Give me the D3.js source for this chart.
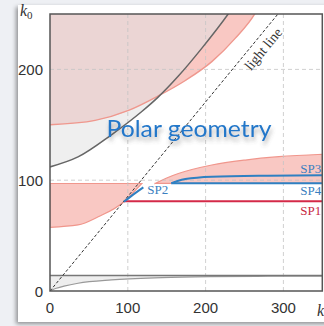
<!DOCTYPE html>
<html><head><meta charset="utf-8">
<script src="https://cdn.jsdelivr.net/npm/d3@7"></script>
<style>html,body{margin:0;padding:0;background:#eef0f4;}svg{display:block;}</style>
</head><body>
<svg id="c" width="324" height="326"></svg>
<script>
// ---- data (k, k0) ----
const xTicks = [0, 100, 200, 300];
const yTicks = [0, 100, 200];
const grayUpper = [[0,112],[36,121],[79,141],[118,162],[139,175],[165,194],[195,219],[229,250],[236,257]];
const pinkUpper = [[0,150],[58,154],[101,163],[139,176],[174,190],[208,207],[238,228],[264,251],[268,256]];
const lightLine = [[0,0],[293,250]];
const grayLowCurve = [[0,0],[8,2.5],[18,4.4],[36,7],[79,10],[144,12],[208,12.9],[280,13.3],[350,13.5]];
const grayLowLevel = 14;
const pinkLeftBottom = [[0,57.5],[36,59.6],[62,67],[95,80.6],[105,87.5],[118,97]];
const pinkLeftTop = 97;
const pinkRightTop = [[135,97],[150,102],[165,106],[208,113.7],[251,118.2],[294,121.2],[350,123.4]];
const pinkRightBottom = 97.2;
const sp1 = [[95,81],[350,81]];
const sp2 = [[95,80.6],[106,86.5],[120,93.5]];
const sp3 = [[156,97.2],[165,99.5],[174,101],[208,103.2],[280,104.1],[350,104.4]];
const sp4 = [[156,97.2],[350,97.2]];
const labels = [
  {t:"SP3", k:350, k0:104.4, dy:-2, c:"#3a7fc0"},
  {t:"SP4", k:350, k0:97.2, dy:12, c:"#3a7fc0"},
  {t:"SP1", k:350, k0:81, dy:14, c:"#c8283f"}
];

const svg = d3.select("#c");
const X0=50, X1=322.3, Y0=291, Y1=14;
const x = d3.scaleLinear().domain([0,350]).range([X0,X1]);
const y = d3.scaleLinear().domain([0,250]).range([Y0,Y1]);

const defs = svg.append("defs");
const sh = defs.append("filter").attr("id","sh").attr("x","-20%").attr("y","-20%").attr("width","140%").attr("height","140%");
sh.append("feDropShadow").attr("dx",-2).attr("dy",2).attr("stdDeviation",2).attr("flood-color","#000").attr("flood-opacity",0.4);
const tsh = defs.append("filter").attr("id","tsh").attr("x","-10%").attr("y","-30%").attr("width","120%").attr("height","170%");
tsh.append("feDropShadow").attr("dx",1).attr("dy",4).attr("stdDeviation",2.2).attr("flood-color","#555").attr("flood-opacity",0.45);
defs.append("clipPath").attr("id","plot").append("rect").attr("x",X0).attr("y",Y1).attr("width",X1-X0).attr("height",Y0-Y1);

// panel
svg.append("rect").attr("x",18).attr("y",5).attr("width",320).attr("height",317).attr("fill","#fff").attr("filter","url(#sh)");

const topK = 262;
const aboveArea = d3.area().x(d=>x(d[0])).y0(d=>y(d[1])).y1(y(topK)).curve(d3.curveMonotoneX);
const grayPath = aboveArea(grayUpper);
defs.append("clipPath").attr("id","grayclip").append("path").attr("d",grayPath);

const g = svg.append("g").attr("clip-path","url(#plot)");
g.append("path").attr("d",grayPath).attr("fill","#efefef");
g.append("path").attr("d",aboveArea(pinkUpper)).attr("fill","#f9c8c3");
g.append("g").attr("clip-path","url(#grayclip)").append("path").attr("d",aboveArea(pinkUpper)).attr("fill","#ebd5d4");

// lower left pink
g.append("path").attr("d", d3.area().x(d=>x(d[0])).y0(d=>y(d[1])).y1(y(pinkLeftTop)).curve(d3.curveMonotoneX)(pinkLeftBottom))
  .attr("fill","#f9c8c3").attr("stroke","#f0968c").attr("stroke-width",1.2);
// right pink
g.append("path").attr("d", d3.area().x(d=>x(d[0])).y0(y(pinkRightBottom)).y1(d=>y(d[1])).curve(d3.curveMonotoneX)(pinkRightTop))
  .attr("fill","#f9c8c3").attr("stroke","#f0968c").attr("stroke-width",1.2);
// gray low
g.append("path").attr("d", d3.area().x(d=>x(d[0])).y0(d=>y(d[1])).y1(y(grayLowLevel)).curve(d3.curveMonotoneX)(grayLowCurve))
  .attr("fill","#eeeeee");

// grid
g.selectAll(".gx").data(xTicks.filter(t=>t>0)).join("line").attr("x1",d=>x(d)).attr("x2",d=>x(d)).attr("y1",Y0).attr("y2",Y1)
  .attr("stroke","#c4c4c4").attr("stroke-width",0.8).attr("stroke-dasharray","4,3");
g.selectAll(".gy").data(yTicks.filter(t=>t>0)).join("line").attr("y1",d=>y(d)).attr("y2",d=>y(d)).attr("x1",X0).attr("x2",X1)
  .attr("stroke","#c4c4c4").attr("stroke-width",0.8).attr("stroke-dasharray","4,3");

const line = d3.line().x(d=>x(d[0])).y(d=>y(d[1])).curve(d3.curveMonotoneX);
g.append("path").attr("d",line(pinkUpper)).attr("fill","none").attr("stroke","#ef988e").attr("stroke-width",1.4);
g.append("path").attr("d",line(grayUpper)).attr("fill","none").attr("stroke","#666").attr("stroke-width",1.5);
g.append("path").attr("d",line(grayLowCurve)).attr("fill","none").attr("stroke","#999").attr("stroke-width",1.2);
g.append("line").attr("x1",X0).attr("x2",X1).attr("y1",y(grayLowLevel)).attr("y2",y(grayLowLevel)).attr("stroke","#777").attr("stroke-width",1.6);
g.append("path").attr("d",d3.line().x(d=>x(d[0])).y(d=>y(d[1]))(lightLine)).attr("fill","none").attr("stroke","#333").attr("stroke-width",1).attr("stroke-dasharray","3,2");

g.append("path").attr("d",line(sp1)).attr("fill","none").attr("stroke","#d42a48").attr("stroke-width",2);
g.append("path").attr("d",line(sp2)).attr("fill","none").attr("stroke","#2f80c2").attr("stroke-width",2);
g.append("path").attr("d",line(sp4)).attr("fill","none").attr("stroke","#2f80c2").attr("stroke-width",2);
g.append("path").attr("d",line(sp3)).attr("fill","none").attr("stroke","#2f80c2").attr("stroke-width",2);

// frame
svg.append("rect").attr("x",X0).attr("y",Y1).attr("width",X1-X0).attr("height",Y0-Y1).attr("fill","none").attr("stroke","#555").attr("stroke-width",1.5);

// ticks labels
svg.selectAll(".xt").data(xTicks).join("text").attr("x",d=>x(d)).attr("y",313).attr("text-anchor","middle")
  .attr("font-family","Liberation Sans, Arial, sans-serif").attr("font-size",15).attr("fill","#333").text(d=>d);
svg.selectAll(".yt").data(yTicks).join("text").attr("x",43).attr("y",d=>y(d)+5.5).attr("text-anchor","end")
  .attr("font-family","Liberation Sans, Arial, sans-serif").attr("font-size",15).attr("fill","#333").text(d=>d);

// axis labels
const ky = svg.append("text").attr("x",20).attr("y",16).attr("font-family","Liberation Serif, serif").attr("font-style","italic").attr("font-size",16).attr("fill","#333");
ky.append("tspan").text("k");
ky.append("tspan").attr("font-size",11).attr("dy",3).attr("font-style","normal").text("0");
svg.append("text").attr("x",317).attr("y",316).attr("font-family","Liberation Serif, serif").attr("font-style","italic").attr("font-size",16).attr("fill","#333").text("k");

// SP labels
labels.forEach(l=>{
  svg.append("text").attr("x",x(l.k)-1).attr("y",y(l.k0)+l.dy).attr("text-anchor","end")
    .attr("font-family","Liberation Serif, serif").attr("font-size",13).attr("fill",l.c).text(l.t);
});
svg.append("text").attr("x",x(125)).attr("y",y(87.5)).attr("font-family","Liberation Serif, serif").attr("font-size",13).attr("fill","#3a7fc0").text("SP2");

// light line label
const ang = Math.atan2(y(lightLine[1][1])-y(0), x(lightLine[1][0])-x(0))*180/Math.PI;
svg.append("text").attr("transform",`translate(267,52) rotate(${ang})`).attr("text-anchor","middle")
  .attr("font-family","Liberation Serif, serif").attr("font-size",14).attr("fill","#333").text("light line");

// title
svg.append("text").attr("x",106.5).attr("y",137).attr("font-family","Lato, 'Open Sans', sans-serif").attr("font-size",24)
  .attr("textLength",165).attr("lengthAdjust","spacingAndGlyphs").attr("fill","#2277c9").attr("filter","url(#tsh)").text("Polar geometry");
</script>
</body></html>
